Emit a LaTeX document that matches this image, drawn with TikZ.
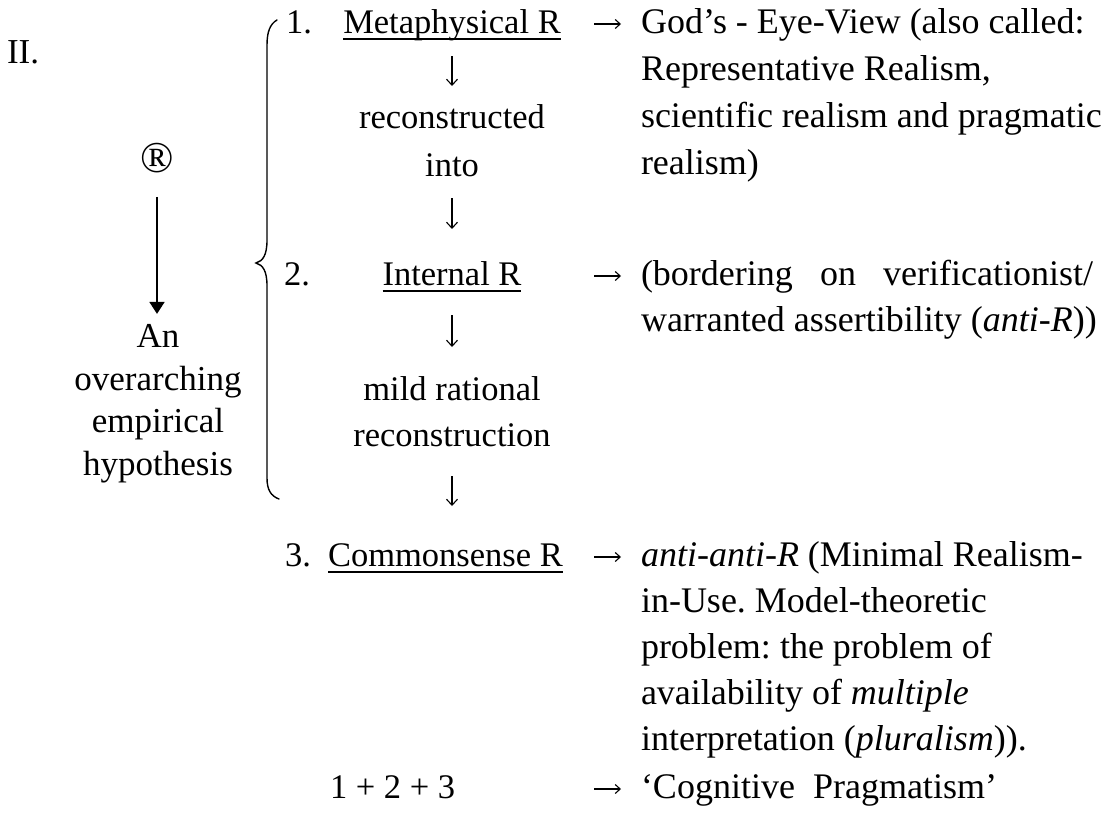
\documentclass[tikz,border=0pt]{standalone}
\usepackage{fontspec}
\setmainfont{Liberation Serif}
\usetikzlibrary{arrows.meta,calc}
\newcommand\leftsz{\fontsize{35}{42}\selectfont}
\newcommand\midsz{\fontsize{34.5}{42}\selectfont}
\newcommand\rightsz{\fontsize{36}{44}\selectfont}
\frenchspacing

\begin{document}
\begin{tikzpicture}[x=1pt,y=-1pt,
  txt/.style={inner sep=0pt, outer sep=0pt},
  lcol/.style={txt, anchor=base, font=\leftsz},
  mcol/.style={txt, anchor=base, font=\midsz},
  num/.style={txt, anchor=base west, font=\midsz},
  rcol/.style={txt, anchor=base west, font=\rightsz},
  uline/.style={line width=1.3pt},
  downarr/.style={line width=1.1pt, -{Straight Barb[length=6pt,width=11pt]}},
  rightarr/.style={line width=1.1pt, -{Straight Barb[length=5pt,width=9pt]}},
  bigarr/.style={line width=1.8pt, -{Triangle[length=12pt,width=15pt]}},
  bracestyle/.style={line width=1.4pt, line cap=round}
]
\useasboundingbox (0,0) rectangle (1107,827);

% left column
\node[lcol, anchor=base west] (roman) at (7,63) {II.};
\node[txt, font=\fontsize{44}{46}\selectfont] (reg) at (157,158) {®};
\node[lcol] (an)   at (158,347) {An};
\node[lcol] (over) at (158,390) {overarching};
\node[lcol] (emp)  at (158,432) {empirical};
\node[lcol] (hyp)  at (158,475) {hypothesis};
\draw[bigarr, shorten <=24pt, shorten >=10pt] (reg.south) -- (reg.south |- an.north);

% curly brace
\draw[bracestyle] (277,20) .. controls (270,24) and (267,32) .. (267,45)
  -- (267,240) .. controls (267,255) and (263,261) .. (256,263)
  .. controls (263,265) and (267,271) .. (267,286)
  -- (267,478) .. controls (267,490) and (271,496) .. (279,499);

% middle column
\node[num]  (n1)     at (286,33)  {1.};
\node[mcol] (meta)   at (452,33)  {Metaphysical R};
\node[mcol] (recon)  at (452,128) {reconstructed};
\node[mcol] (into)   at (452,176) {into};
\node[num]  (n2)     at (284,285) {2.};
\node[mcol] (intR)   at (452,285) {Internal R};
\node[mcol] (mild)   at (452,400) {mild rational};
\node[mcol] (recons) at (452,446) {reconstruction};
\node[num]  (n3)     at (285,566) {3.};
\node[num]  (comm)   at (328,566) {Commonsense R};
\node[num]  (sum)    at (330,798) {1 + 2 + 3};

\foreach \n in {meta,intR,comm}
  \draw[uline] ([yshift=-6pt]\n.base west) -- ([yshift=-6pt]\n.base east);

\draw[downarr, shorten <=23pt, shorten >=42pt] (meta.base) -- (recon.base);
\draw[downarr, shorten <=22pt, shorten >=56pt] (into.base) -- (intR.base);
\draw[downarr, shorten <=30pt, shorten >=53pt] (intR.base) -- (mild.base);
\draw[downarr, shorten <=30pt, shorten >=60pt] (recons.base) -- (recons.base |- comm.base);

% right column
\node[rcol] (r1)  at (641,33)  {God’s - Eye-View (also called:};
\node[rcol] (r2)  at (641,80)  {Representative Realism,};
\node[rcol] (r3)  at (641,127) {scientific realism and pragmatic};
\node[rcol] (r4)  at (641,174) {realism)};
\node[rcol] (r5)  at (641,285) {\makebox[452pt][s]{(bordering on verificationist/}};
\node[rcol] (r6)  at (641,331) {warranted assertibility (\textit{anti-R}))};
\node[rcol] (r7)  at (641,566) {\textit{anti-anti-R} (Minimal Realism-};
\node[rcol] (r8)  at (641,612) {in-Use. Model-theoretic};
\node[rcol] (r9)  at (641,658) {problem: the problem of};
\node[rcol] (r10) at (641,704) {availability of \textit{multiple}};
\node[rcol] (r11) at (641,750) {interpretation (\textit{pluralism})).};
\node[rcol] (r12) at (641,798) {‘Cognitive\ \ Pragmatism’};

% horizontal arrows, starting just right of the middle column
\coordinate (t1) at (594,24);
\coordinate (t2) at (594,276);
\coordinate (t3) at (594,557);
\coordinate (t4) at (594,789);
\draw[rightarr, shorten >=20pt] (t1) -- (t1 -| r1.base west);
\draw[rightarr, shorten >=20pt] (t2) -- (t2 -| r5.base west);
\draw[rightarr, shorten >=20pt] (t3) -- (t3 -| r7.base west);
\draw[rightarr, shorten >=20pt] (t4) -- (t4 -| r12.base west);
\end{tikzpicture}
\end{document}
